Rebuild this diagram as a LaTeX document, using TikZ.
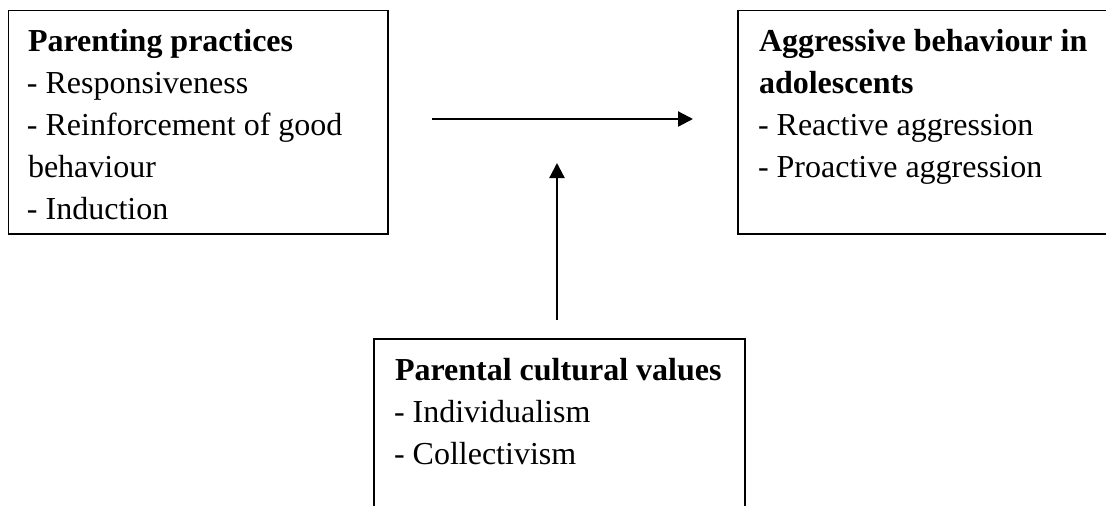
\documentclass[tikz,border=0pt]{standalone}
\usepackage{fontspec}
\setmainfont{Liberation Serif}
\usetikzlibrary{arrows.meta}
\tikzset{
  x=1pt, y=-1pt,
  boxframe/.style={draw=black, line width=1.4pt, inner sep=0pt, outer sep=0pt},
  txt/.style={anchor=base west, inner sep=0pt, outer sep=0pt, font=\fontsize{32}{42}\selectfont},
  hd/.style={txt, font=\fontsize{32}{42}\selectfont\bfseries},
  link/.style={line width=2.2pt, -{Triangle[length=15pt, width=15pt]}}
}
\begin{document}
\begin{tikzpicture}
\useasboundingbox (0,0) rectangle (1106,506);
\clip (0,0) rectangle (1106,506);
% boxes
\node[boxframe, minimum width=379.5pt, minimum height=223.3pt] (pp) at (198.25,122.35) {};
\node[boxframe, minimum width=372pt, minimum height=223.3pt] (ab) at (924,122.35) {};
\node[boxframe, minimum width=371pt, minimum height=180pt] (pcv) at (559.5,429) {};
% left box text
\node[hd]  (pp1) at (28,51)  {Parenting practices};
\node[txt] (pp2) at (27,93)  {- Responsiveness};
\node[txt] (pp3) at (27,135) {- Reinforcement of good};
\node[txt] (pp4) at (28,177) {behaviour};
\node[txt] (pp5) at (27,219) {- Induction};
% right box text
\node[hd]  (ab1) at (759,51)  {Aggressive behaviour in};
\node[hd]  (ab2) at (759,93)  {adolescents};
\node[txt] (ab3) at (758,135) {- Reactive aggression};
\node[txt] (ab4) at (758,177) {- Proactive aggression};
% bottom box text
\node[hd]  (pc1) at (395,380) {Parental cultural values};
\node[txt] (pc2) at (394,422) {- Individualism};
\node[txt] (pc3) at (394,464) {- Collectivism};
% connectors
\draw[link, shorten <=44pt, shorten >=45pt] ([yshift=3.35pt]pp.east) -- ([yshift=3.35pt]ab.west);
\coordinate (vend) at (557,163);
\draw[link, shorten <=19pt] (pcv.north -| vend) -- (vend);
\end{tikzpicture}
\end{document}
